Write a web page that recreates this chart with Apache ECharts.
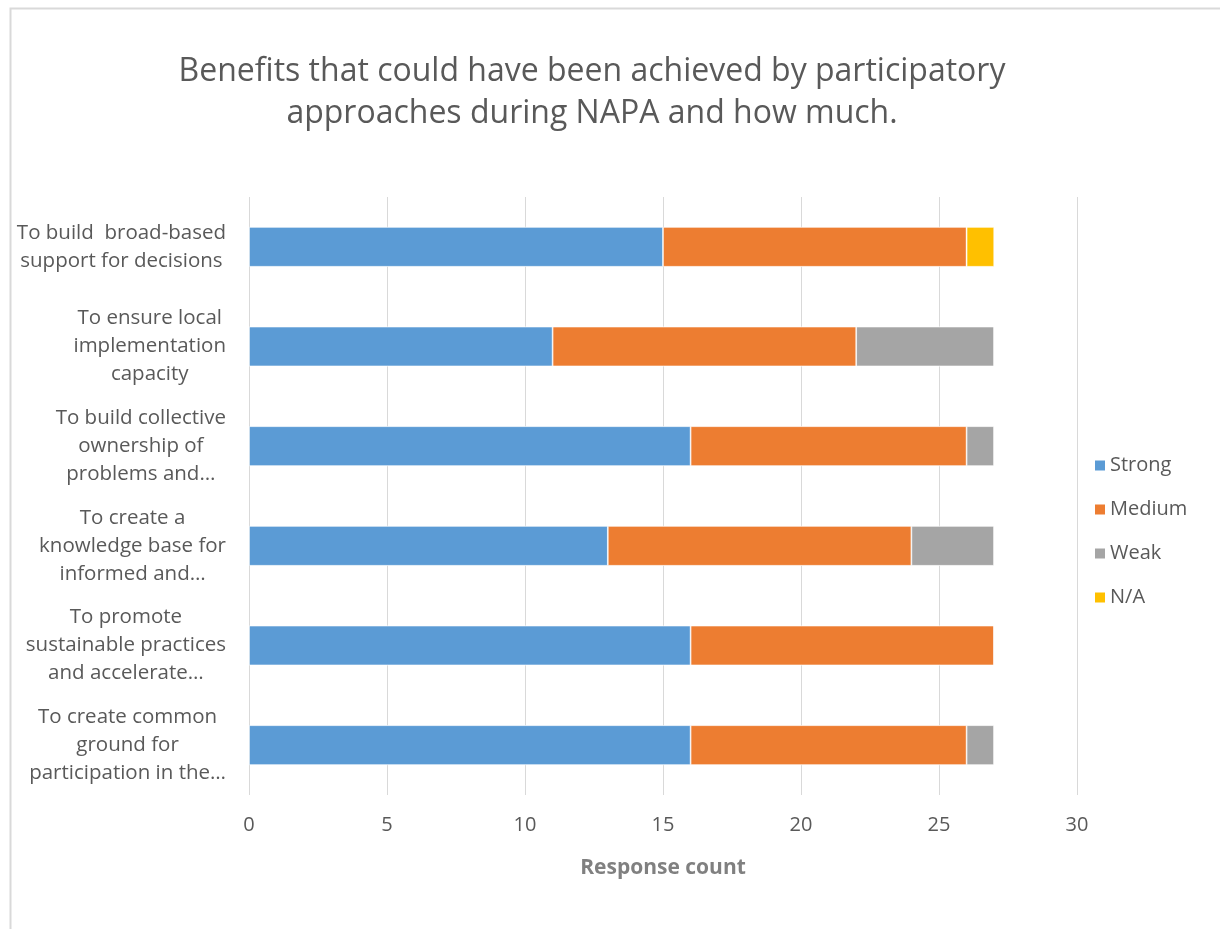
<!DOCTYPE html>
<html>
<head>
<meta charset="utf-8">
<script src="https://cdn.jsdelivr.net/npm/echarts@6/dist/echarts.min.js"></script>
<style>
  html, body { margin: 0; padding: 0; background: #ffffff; }
  #chart { width: 1220px; height: 929px; }
</style>
</head>
<body>
<div id="chart"></div>
<script>
// Benefits of participatory approaches during NAPA, stacked by strength of response
const categories = [
  'To build  broad-based\nsupport for decisions',
  'To ensure local\nimplementation\ncapacity',
  'To build collective\nownership of\nproblems and…',
  'To create a\nknowledge base for\ninformed and…',
  'To promote\nsustainable practices\nand accelerate…',
  'To create common\nground for\nparticipation in the…'
];
const strong = [15, 11, 16, 13, 16, 16];
const medium = [11, 11, 10, 11, 11, 10];
const weak   = [0, 5, 1, 3, 0, 1];
const na     = [1, 0, 0, 0, 0, 0];
const xTicks = [0, 5, 10, 15, 20, 25, 30];

const FONT = '"Open Sans", Lato, sans-serif';
const TEXT = '#595959';

const chart = echarts.init(document.getElementById('chart'), null, { renderer: 'canvas' });

function barSeries(name, data, color) {
  return {
    name: name,
    type: 'bar',
    stack: 'total',
    data: data,
    barCategoryGap: '60%',
    itemStyle: { color: color, borderColor: '#ffffff', borderWidth: 0.7 },
    emphasis: { disabled: true }
  };
}

chart.setOption({
  animation: false,
  backgroundColor: '#ffffff',
  textStyle: { fontFamily: FONT },
  title: {
    text: 'Benefits that could have been achieved by participatory\napproaches during NAPA and how much.',
    left: 587,
    top: 46,
    textAlign: 'center',
    textStyle: {
      fontFamily: FONT,
      fontSize: 32,
      fontWeight: 'normal',
      color: TEXT,
      lineHeight: 42
    }
  },
  legend: {
    orient: 'vertical',
    left: 1088,
    top: 449,
    icon: 'rect',
    itemWidth: 12,
    itemHeight: 12,
    itemGap: 21,
    textStyle: { fontFamily: FONT, fontSize: 20, color: TEXT, lineHeight: 23, padding: [0, 0, 0, -1] },
    data: ['Strong', 'Medium', 'Weak', 'N/A']
  },
  grid: {
    left: 249,
    right: 143,
    top: 197,
    bottom: 134,
    containLabel: false
  },
  xAxis: {
    type: 'value',
    min: xTicks[0],
    max: xTicks[xTicks.length - 1],
    interval: xTicks[1] - xTicks[0],
    name: 'Response count',
    nameLocation: 'middle',
    nameGap: 63,
    nameTextStyle: { fontFamily: FONT, fontSize: 21, fontWeight: 'bold', color: '#808080' },
    axisLine: { show: false },
    axisTick: { show: false },
    axisLabel: { fontFamily: FONT, fontSize: 20, color: TEXT, margin: 20 },
    splitLine: { show: true, lineStyle: { color: '#d9d9d9', width: 1 } }
  },
  yAxis: {
    type: 'category',
    inverse: true,
    data: categories,
    axisLine: { show: false },
    axisTick: { show: false },
    axisLabel: {
      margin: 23,
      align: 'right',
      fontFamily: FONT,
      fontSize: 20.5,
      color: TEXT,
      lineHeight: 28,
      formatter: function (v) {
        return v.split('\n').map(function (l) { return '{c|' + l + '}'; }).join('\n');
      },
      rich: {
        c: { align: 'center', fontFamily: FONT, fontSize: 20.5, color: TEXT, lineHeight: 28 }
      }
    }
  },
  series: [
    barSeries('Strong', strong, '#5b9bd5'),
    barSeries('Medium', medium, '#ed7d31'),
    barSeries('Weak', weak, '#a5a5a5'),
    barSeries('N/A', na, '#ffc000')
  ],
  graphic: [
    {
      type: 'rect',
      left: 8,
      top: 6,
      shape: { width: 1211, height: 960 },
      style: { fill: 'none', stroke: '#d9d9d9', lineWidth: 2 },
      silent: true,
      z: -1
    }
  ]
});
</script>
</body>
</html>
